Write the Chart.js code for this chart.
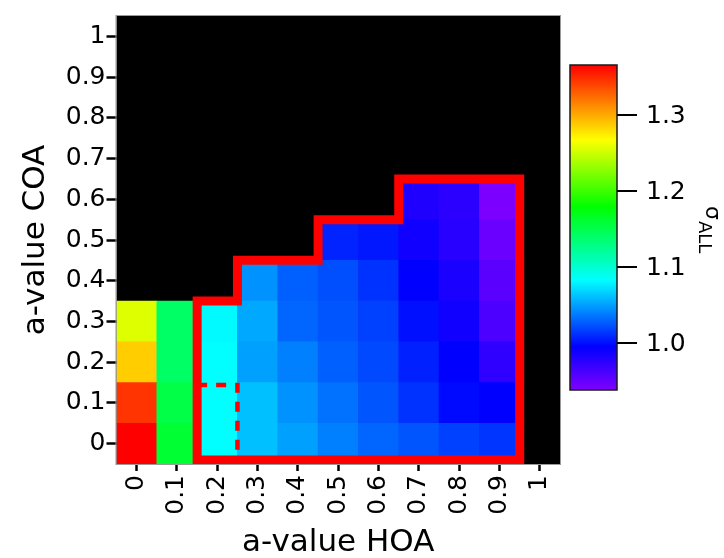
<!DOCTYPE html>
<html>
<head>
<meta charset="utf-8">
<title>σ ALL — a-value HOA vs a-value COA</title>
<script src="https://cdn.jsdelivr.net/npm/chart.js@4.4.1/dist/chart.umd.min.js"></script>
<style>
  html, body { margin: 0; padding: 0; background: #fff; }
  #wrap { position: relative; width: 724px; height: 558px; }
</style>
</head>
<body>
<div id="wrap"><canvas id="map"></canvas></div>
<script>
// ── Data ──────────────────────────────────────────────────────
const hoaValues  = [0, 0.1, 0.2, 0.3, 0.4, 0.5, 0.6, 0.7, 0.8, 0.9, 1];
const coaValues  = [0, 0.1, 0.2, 0.3, 0.4, 0.5, 0.6, 0.7, 0.8, 0.9, 1];
const tickLabels = ['0', '0.1', '0.2', '0.3', '0.4', '0.5', '0.6', '0.7', '0.8', '0.9', '1'];

// σ_ALL for each COA row, one entry per HOA value (null = no solution)
const sigmaCoa00 = [1.366, 1.160, 1.083, 1.061, 1.050, 1.039, 1.030, 1.024, 1.017, 1.013, null];
const sigmaCoa01 = [1.346, 1.153, 1.083, 1.061, 1.045, 1.034, 1.024, 1.012, 0.998, 0.995, null];
const sigmaCoa02 = [1.287, 1.141, 1.083, 1.050, 1.039, 1.028, 1.020, 1.006, 0.995, 0.974, null];
const sigmaCoa03 = [1.256, 1.141, 1.081, 1.053, 1.030, 1.024, 1.017, 1.000, 0.988, 0.961, null];
const sigmaCoa04 = [null,  null,  null,  1.045, 1.028, 1.022, 1.012, 0.995, 0.984, 0.955, null];
const sigmaCoa05 = [null,  null,  null,  null,  null,  1.007, 1.003, 0.988, 0.977, 0.948, null];
const sigmaCoa06 = [null,  null,  null,  null,  null,  null,  null,  0.981, 0.976, 0.940, null];
const sigmaRows  = [sigmaCoa00, sigmaCoa01, sigmaCoa02, sigmaCoa03, sigmaCoa04, sigmaCoa05, sigmaCoa06];

// colour scale range and colour bar ticks
const sigmaMin    = 0.938;
const sigmaMax    = 1.366;
const barTicks    = [1.0, 1.1, 1.2, 1.3];
const barLabels   = ['1.0', '1.1', '1.2', '1.3'];

// outlined HOA range and the dashed sub-region inside it
const outlineHoa  = [0.2, 0.3, 0.4, 0.5, 0.6, 0.7, 0.8, 0.9];
const dashedHoa   = 0.2;
const dashedCoa   = 0.1;

// ── Rainbow colour table ──────────────────────────────────────
const cmapPos = [0, 0.133, 0.338, 0.564, 0.77, 1];
const cmapRgb = [[128, 0, 255], [0, 0, 255], [0, 255, 255], [0, 255, 0], [255, 255, 0], [255, 0, 0]];

function sigmaColor(v) {
    let f = (v - sigmaMin) / (sigmaMax - sigmaMin);
    f = Math.max(0, Math.min(1, f));
    let k = 1;
    while (k < cmapPos.length - 1 && f > cmapPos[k]) k++;
    const t = (f - cmapPos[k - 1]) / (cmapPos[k] - cmapPos[k - 1]);
    const a = cmapRgb[k - 1], b = cmapRgb[k];
    const c = a.map((ch, i) => Math.round(ch + (b[i] - ch) * t));
    return `rgb(${c[0]},${c[1]},${c[2]})`;
}

// ── Datasets ──────────────────────────────────────────────────
const half = 0.05;

// one floating-bar dataset per COA row
const cellSets = sigmaRows.map((row, r) => {
    const coa = coaValues[r];
    const cells = [];
    const colors = [];
    row.forEach((v, i) => {
        if (v === null) return;
        cells.push({ x: hoaValues[i], y: [coa - half, coa + half] });
        colors.push(sigmaColor(v));
    });
    return {
        type: 'bar',
        data: cells,
        backgroundColor: colors,
        borderWidth: 0,
        grouped: false,
        barPercentage: 1,
        categoryPercentage: 1,
        order: 1
    };
});

// top of the filled column for a given HOA value
function columnTop(hoa) {
    const i = hoaValues.indexOf(hoa);
    let top = -half;
    sigmaRows.forEach((row, r) => { if (row[i] !== null) top = coaValues[r] + half; });
    return top;
}

// staircase outline around the HOA ≥ 0.2 block
const bottomY = -half + 0.01;
const leftX   = outlineHoa[0] - half;
const rightX  = outlineHoa[outlineHoa.length - 1] + half;
const midX    = (leftX + rightX) / 2;
const outline = [{ x: midX, y: bottomY }, { x: leftX, y: bottomY }];
outlineHoa.forEach(h => {
    const top = columnTop(h);
    outline.push({ x: h - half, y: top }, { x: h + half, y: top });
});
outline.push({ x: rightX, y: bottomY }, { x: midX, y: bottomY });

const dashed = [
    { x: dashedHoa - half, y: dashedCoa + half - 0.006 },
    { x: dashedHoa + half, y: dashedCoa + half - 0.006 },
    { x: dashedHoa + half, y: bottomY }
];

const lineStyle = {
    type: 'line',
    borderColor: '#ff0000',
    pointRadius: 0,
    fill: false,
    tension: 0,
    clip: false,
    borderJoinStyle: 'miter',
    borderCapStyle: 'butt',
    order: 0
};

// ── Plugins: black plot background, frame, colour bar ─────────
const plotFrame = {
    id: 'plotFrame',
    beforeDraw(chart) {
        const { ctx, chartArea: a } = chart;
        ctx.save();
        ctx.fillStyle = '#000';
        ctx.fillRect(a.left, a.top, a.width, a.height);
        ctx.restore();
    },
    afterDraw(chart) {
        const { ctx, chartArea: a } = chart;
        ctx.save();
        ctx.strokeStyle = '#9a9a9a';
        ctx.lineWidth = 1;
        ctx.strokeRect(a.left - 0.5, a.top - 0.5, a.width + 1, a.height + 1);
        ctx.restore();
    }
};

const colorBar = {
    id: 'colorBar',
    afterDraw(chart) {
        const { ctx, chartArea: a } = chart;
        const x0 = a.right + 10, w = 47, top = 65, bottom = 390;
        const yOf = v => bottom - (v - sigmaMin) / (sigmaMax - sigmaMin) * (bottom - top);

        ctx.save();
        const grad = ctx.createLinearGradient(0, bottom, 0, top);
        cmapPos.forEach((p, i) => grad.addColorStop(p, `rgb(${cmapRgb[i].join(',')})`));
        ctx.fillStyle = grad;
        ctx.fillRect(x0, top, w, bottom - top);
        ctx.strokeStyle = '#1a1a1a';
        ctx.lineWidth = 1.5;
        ctx.strokeRect(x0, top, w, bottom - top);

        // ticks and labels
        ctx.lineWidth = 2;
        ctx.strokeStyle = '#000';
        ctx.fillStyle = '#000';
        ctx.font = '25px "DejaVu Sans"';
        ctx.textAlign = 'left';
        ctx.textBaseline = 'middle';
        barTicks.forEach((v, i) => {
            const y = Math.round(yOf(v));
            ctx.beginPath();
            ctx.moveTo(x0 + w, y);
            ctx.lineTo(x0 + w + 20, y);
            ctx.stroke();
            ctx.fillText(barLabels[i], x0 + w + 29, y + 1);
        });

        // σ_ALL, rotated clockwise
        ctx.translate(a.right + 146, 206);
        ctx.rotate(Math.PI / 2);
        ctx.textBaseline = 'alphabetic';
        ctx.font = '22px "DejaVu Sans"';
        ctx.fillText('σ', 0, 0);
        const sw = ctx.measureText('σ').width;
        ctx.font = '18px "DejaVu Sans"';
        ctx.fillText('ALL', sw + 1, 7);
        ctx.restore();
    }
};

// ── Chart ─────────────────────────────────────────────────────
Chart.defaults.font.family = '"DejaVu Sans", sans-serif';
Chart.defaults.color = '#000';

const axisTicks = values => scale => { scale.ticks = values.map(value => ({ value })); };

new Chart(document.getElementById('map'), {
    type: 'bar',
    data: {
        datasets: [
            ...cellSets,
            { ...lineStyle, data: outline, borderWidth: 9 },
            { ...lineStyle, data: dashed, borderWidth: 4.5, borderDash: [10, 9] }
        ]
    },
    options: {
        responsive: true,
        maintainAspectRatio: false,
        animation: false,
        events: [],
        layout: { padding: { top: 12, right: 164, bottom: 0, left: 0 } },
        plugins: {
            legend: { display: false },
            tooltip: { enabled: false }
        },
        scales: {
            x: {
                type: 'linear',
                offset: false,
                min: -half,
                max: 1 + half,
                afterBuildTicks: axisTicks(hoaValues),
                afterFit: s => { s.height = 94; },
                grid: { offset: false, drawOnChartArea: false, tickLength: 7, tickWidth: 2.5, tickColor: '#000' },
                border: { display: false },
                ticks: {
                    autoSkip: false,
                    minRotation: 90,
                    maxRotation: 90,
                    padding: 4,
                    font: { size: 25 },
                    callback: (v, i) => tickLabels[i]
                },
                title: {
                    display: true,
                    text: 'a-value HOA',
                    font: { size: 31, lineHeight: 1 },
                    padding: { top: 0, bottom: 0 }
                }
            },
            y: {
                type: 'linear',
                min: -half,
                max: 1 + half,
                afterBuildTicks: axisTicks(coaValues),
                afterFit: s => { s.width = 116.5; },
                grid: { drawOnChartArea: false, tickLength: 10, tickWidth: 2.5, tickColor: '#000' },
                border: { display: false },
                ticks: {
                    autoSkip: false,
                    padding: 1,
                    font: { size: 25 },
                    callback: (v, i) => tickLabels[i]
                },
                title: {
                    display: true,
                    text: 'a-value COA',
                    font: { size: 31, lineHeight: 1 },
                    padding: { top: 20.5, bottom: 0 }
                }
            }
        }
    },
    plugins: [plotFrame, colorBar]
});
</script>
</body>
</html>
